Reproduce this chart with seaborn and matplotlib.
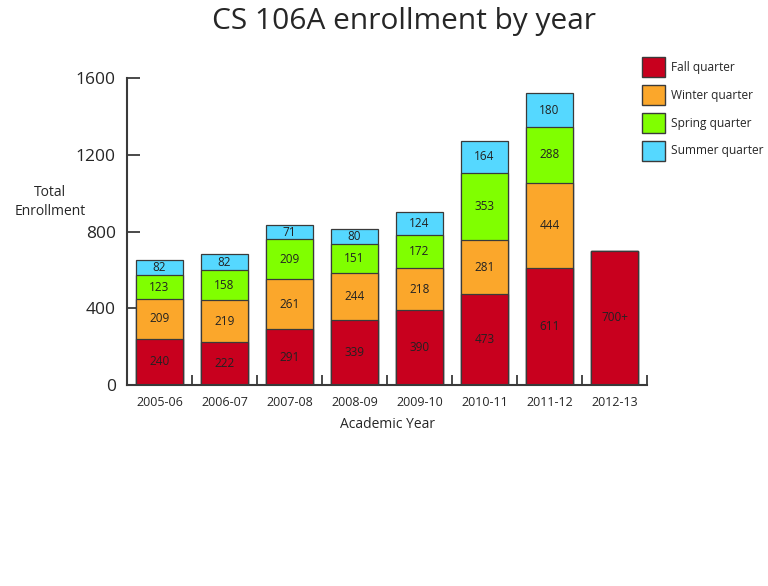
import matplotlib
matplotlib.use("Agg")
import matplotlib.pyplot as plt
import seaborn as sns
import numpy as np
import pandas as pd
from matplotlib.patches import Patch

years = ["2005-06", "2006-07", "2007-08", "2008-09", "2009-10", "2010-11", "2011-12", "2012-13"]
fall = [240, 222, 291, 339, 390, 473, 611, 700]
winter = [209, 219, 261, 244, 218, 281, 444, 0]
spring = [123, 158, 209, 151, 172, 353, 288, 0]
summer = [82, 82, 71, 80, 124, 164, 180, 0]
fall_labels = ["240", "222", "291", "339", "390", "473", "611", "700+"]
series_names = ["Fall quarter", "Winter quarter", "Spring quarter", "Summer quarter"]
yticks = [0, 400, 800, 1200, 1600]

colors = ["#C8001E", "#FBA72B", "#80FF00", "#55D8FF"]
edge = "#3a3a3a"

sns.set_style("white")
plt.rcParams["font.family"] = ["Open Sans", "DejaVu Sans"]

fig = plt.figure(figsize=(7.68, 5.86), dpi=100)
ax = fig.add_axes([127 / 768, 1 - 385 / 586, (647 - 127) / 768, (385 - 78) / 586])

series = [fall, winter, spring, summer]
cum = np.cumsum(np.array(series), axis=0)
# draw from top layer down so that lower segments overlay
for k in range(3, -1, -1):
    df = pd.DataFrame({"year": years, "val": cum[k]})
    sns.barplot(data=df, x="year", y="val", order=years, color=colors[k],
                width=0.72, edgecolor=edge, linewidth=0.9, saturation=1, ax=ax, zorder=2)

# value labels
for i in range(len(years)):
    bottom = 0
    for k, s in enumerate(series):
        v = s[i]
        if v > 0:
            txt = fall_labels[i] if k == 0 else str(v)
            ax.text(i, bottom + v / 2, txt, ha="center", va="center", fontsize=8.5, color="#222222", zorder=5)
        bottom += v

ax.set_xlim(-0.5, 7.5)
ax.set_ylim(0, 1600)
ax.set_yticks(yticks)
ax.set_yticklabels([str(t) for t in yticks], fontsize=12.5)
ax.set_xticks(range(len(years)))
ax.set_xticklabels(years, fontsize=9)
ax.set_xticks(np.arange(0.5, 8, 1), minor=True)
ax.tick_params(axis="x", which="major", bottom=True, length=0, pad=8)
ax.tick_params(axis="x", which="minor", bottom=True, direction="in", length=7, width=1.3, color=edge)
ax.tick_params(axis="y", which="major", left=True, direction="in", length=9, width=1.3, color=edge, pad=8)
for s in ["top", "right"]:
    ax.spines[s].set_visible(False)
for s in ["left", "bottom"]:
    ax.spines[s].set_color(edge)
    ax.spines[s].set_linewidth(1.5)

ax.set_xlabel("Academic Year", fontsize=10, labelpad=6)
ax.set_ylabel("")
fig.text(50 / 768, 1 - 202 / 586, "Total\nEnrollment", ha="center", va="center", fontsize=10, linespacing=1.3)

fig.text(404 / 768, 1 - 21 / 586, "CS 106A enrollment by year", ha="center", va="center", fontsize=21.5)

handles = [Patch(facecolor=c, edgecolor=edge, linewidth=1.0) for c in colors]
fig.legend(handles, series_names, loc="upper left", bbox_to_anchor=(642 / 768, 1 - 57 / 586),
           frameon=False, fontsize=8.6, handlelength=1.9, handleheight=2.2, labelspacing=0.66,
           handletextpad=0.55, borderaxespad=0, borderpad=0)

fig.savefig("out.png", dpi=100)
